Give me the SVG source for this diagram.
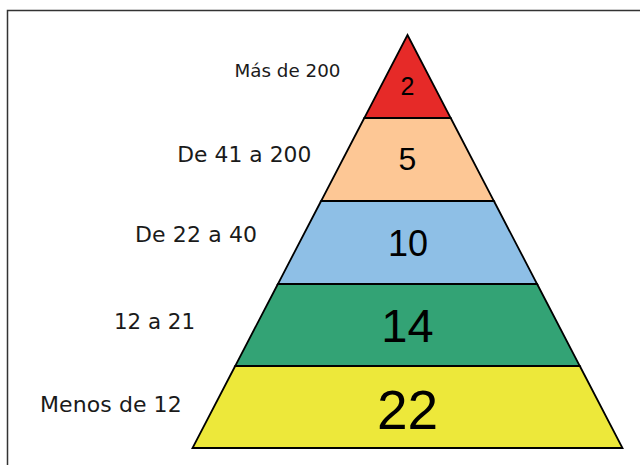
<svg xmlns="http://www.w3.org/2000/svg" width="640" height="465" viewBox="0 0 640 465">
<style>
.lay{stroke:#000;stroke-width:1.8;stroke-linejoin:miter}
.num{font-family:"Liberation Sans",Arial,sans-serif;fill:#000;text-anchor:middle}
.lbl{font-family:"DejaVu Sans",Verdana,sans-serif;fill:#1a1a1a}
</style>
<rect width="640" height="465" fill="#fff"/>
<path d="M7.5,465 V10.5 H640" fill="none" stroke="#333" stroke-width="1.5"/>
<g id="layer1">
<polygon class="lay" points="407.5,35 450.7,118 364.3,118" fill="#e62a28"/>
<text class="num" x="407.5" y="95" font-size="25">2</text>
<text class="lbl" x="234.5" y="76.5" font-size="18.3" textLength="106" lengthAdjust="spacing">Más de 200</text>
</g>
<g id="layer2">
<polygon class="lay" points="364.3,118 450.7,118 493.9,201 321.1,201" fill="#fdc795"/>
<text class="num" x="407.5" y="170" font-size="32">5</text>
<text class="lbl" x="177.3" y="162" font-size="21.8" textLength="134" lengthAdjust="spacing">De 41 a 200</text>
</g>
<g id="layer3">
<polygon class="lay" points="321.1,201 493.9,201 537.1,284 277.9,284" fill="#8ebfe6"/>
<text class="num" x="408" y="256" font-size="36">10</text>
<text class="lbl" x="135" y="241.7" font-size="22" textLength="122" lengthAdjust="spacing">De 22 a 40</text>
</g>
<g id="layer4">
<polygon class="lay" points="277.9,284 537.1,284 579.8,366 235.2,366" fill="#33a375"/>
<text class="num" x="407.5" y="342" font-size="47">14</text>
<text class="lbl" x="114" y="329" font-size="21.4" textLength="81" lengthAdjust="spacing">12 a 21</text>
</g>
<g id="layer5">
<polygon class="lay" points="235.2,366 579.8,366 622.5,448 192.5,448" fill="#ede83a"/>
<text class="num" x="407.5" y="429" font-size="55">22</text>
<text class="lbl" x="40" y="411.7" font-size="22" textLength="141.7" lengthAdjust="spacing">Menos de 12</text>
</g>
<g id="connectors"></g>
</svg>
